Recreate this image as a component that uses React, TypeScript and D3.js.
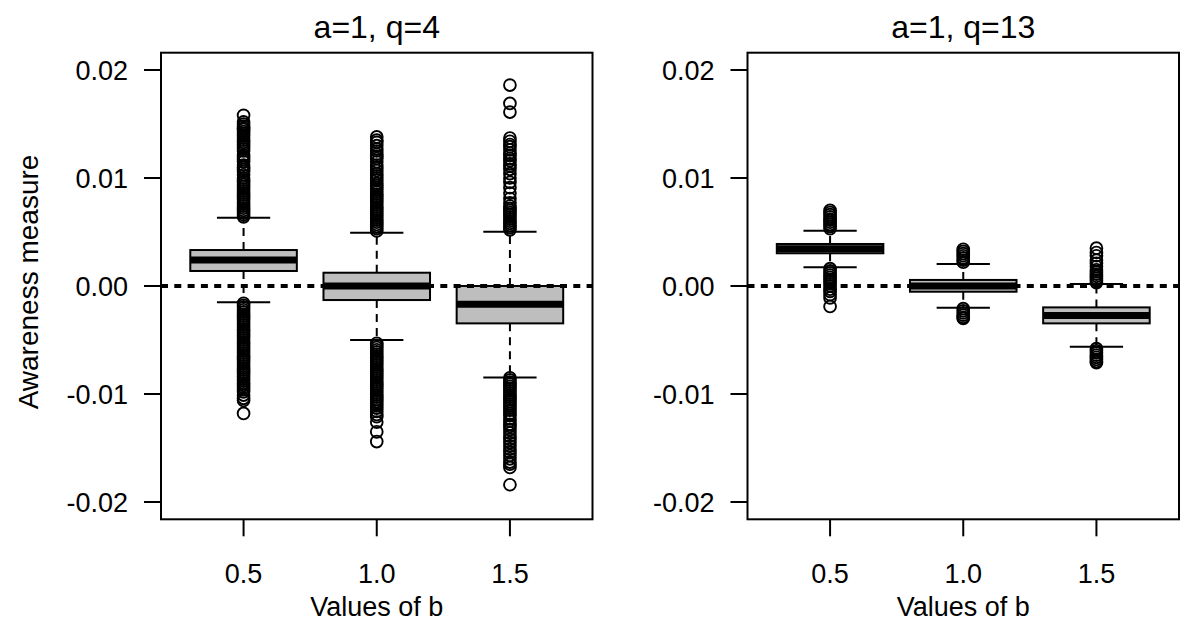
import React from "react";
import * as d3 from "d3";

// ---------- data ----------
const categories = ["0.5", "1.0", "1.5"];
const panelTitles = ["a=1, q=4", "a=1, q=13"];
const yTicks = [-0.02, -0.01, 0, 0.01, 0.02];
const yTickLabels = ["-0.02", "-0.01", "0.00", "0.01", "0.02"];
const xTitle = "Values of b";
const yTitle = "Awareness measure";

// box stats: [lower whisker, Q1, median, Q3, upper whisker]
const q4Stats = [
  [-0.00151, 0.00139, 0.0024, 0.00333, 0.00632],
  [-0.005, -0.0013, 0.0, 0.00123, 0.00494],
  [-0.00846, -0.00346, -0.0017, 0.0, 0.00503],
];
const q13Stats = [
  [0.00173, 0.00303, 0.00346, 0.00389, 0.00512],
  [-0.00201, -0.00053, 0.0, 0.00056, 0.00204],
  [-0.00562, -0.00346, -0.00272, -0.00198, 0.00019],
];

// outliers (q=4)
const q4Out05 = [
  0.0064, 0.0066, 0.0068, 0.007, 0.0072, 0.0074, 0.0076, 0.0078, 0.008, 0.0082, 0.0084, 0.0086, 0.0088,
  0.009, 0.0092, 0.0094, 0.0096, 0.0098, 0.01, 0.0103, 0.0106, 0.0108, 0.011, 0.0112, 0.0115, 0.0117,
  0.0119, 0.0121, 0.0125, 0.0127, 0.0129, 0.0131, 0.0133, 0.0135, 0.0137, 0.0139, 0.0141, 0.0143,
  0.0145, 0.0146, 0.0148, 0.015, 0.0152, 0.0158,
  -0.0016, -0.0018, -0.002, -0.0022, -0.0024, -0.0026, -0.0028, -0.003, -0.0032, -0.0034, -0.0036,
  -0.0038, -0.004, -0.0042, -0.0044, -0.0046, -0.0048, -0.005, -0.0052, -0.0054, -0.0056, -0.0058,
  -0.006, -0.0062, -0.0064, -0.0066, -0.0068, -0.007, -0.0072, -0.0074, -0.0076, -0.0078, -0.008,
  -0.0082, -0.0084, -0.0086, -0.0088, -0.009, -0.0092, -0.0094, -0.0096, -0.0098, -0.0101, -0.0104,
  -0.0106, -0.0118,
];
const q4Out10 = [
  0.0051, 0.0053, 0.0055, 0.0057, 0.0059, 0.0061, 0.0063, 0.0065, 0.0067, 0.0069, 0.0071, 0.0073,
  0.0075, 0.0077, 0.0079, 0.0081, 0.0083, 0.0085, 0.0087, 0.0089, 0.0091, 0.0093, 0.0095, 0.0098,
  0.01, 0.0102, 0.0104, 0.0107, 0.011, 0.0112, 0.0115, 0.0118, 0.012, 0.0122, 0.0125, 0.0127, 0.013,
  0.0133, 0.0135, 0.0138,
  -0.0053, -0.0055, -0.0057, -0.0059, -0.0061, -0.0063, -0.0065, -0.0067, -0.0069, -0.0071, -0.0073,
  -0.0075, -0.0077, -0.0079, -0.0081, -0.0083, -0.0085, -0.0087, -0.0089, -0.0091, -0.0093, -0.0095,
  -0.0097, -0.0099, -0.0101, -0.0103, -0.0105, -0.0107, -0.0109, -0.0111, -0.0113, -0.0116, -0.0119,
  -0.0121, -0.0126, -0.0135, -0.0144,
];
const q4Out15 = [
  0.0052, 0.0054, 0.0056, 0.0058, 0.006, 0.0062, 0.0064, 0.0066, 0.0068, 0.007, 0.0072, 0.0074, 0.0077,
  0.0081, 0.0086, 0.0091, 0.0096, 0.01, 0.0104, 0.0108, 0.0111, 0.0113, 0.0116, 0.0118, 0.0121, 0.0123,
  0.0126, 0.0129, 0.0131, 0.0134, 0.0137, 0.0161, 0.0169, 0.0186,
  -0.0085, -0.0087, -0.0089, -0.0091, -0.0093, -0.0095, -0.0097, -0.0099, -0.0101, -0.0103, -0.0105,
  -0.0107, -0.0109, -0.0111, -0.0113, -0.0115, -0.0118, -0.012, -0.0123, -0.0125, -0.0128, -0.013,
  -0.0133, -0.0136, -0.0139, -0.0142, -0.0145, -0.0148, -0.0151, -0.0154, -0.0157, -0.016, -0.0163,
  -0.0165, -0.0168, -0.0184,
];
// outliers (q=13)
const q13Out05 = [
  0.0053, 0.0055, 0.0057, 0.0059, 0.0061, 0.0062, 0.0064, 0.0066, 0.0068, 0.007,
  0.0016, 0.0014, 0.0012, 0.001, 0.0008, 0.0006, 0.0004, 0.0002, 0.0, -0.0003, -0.0005, -0.0008, -0.0011,
  -0.0019,
];
const q13Out10 = [
  0.0022, 0.0024, 0.0026, 0.0028, 0.003, 0.0032, 0.0034,
  -0.0021, -0.0023, -0.0025, -0.0027, -0.0029, -0.003,
];
const q13Out15 = [
  0.0003, 0.0005, 0.0007, 0.0009, 0.0011, 0.0013, 0.0015, 0.0018, 0.0021, 0.0024, 0.0028, 0.0031, 0.0035,
  -0.0058, -0.006, -0.0062, -0.0064, -0.0066, -0.0068, -0.007, -0.0071,
];

const panels = [
  { title: panelTitles[0], stats: q4Stats, outliers: [q4Out05, q4Out10, q4Out15] },
  { title: panelTitles[1], stats: q13Stats, outliers: [q13Out05, q13Out10, q13Out15] },
];

// ---------- layout ----------
const W = 1200;
const H = 627;
const plotLefts = [161, 747.5];
const plotWidth = 431.5;
const plotTop = 52.7;
const plotBottom = 519.3;
const FONT = "'Liberation Sans', Arial, Helvetica, sans-serif";
const FS = 27;
const FS_TITLE = 32;

function Panel({ p, left }: { p: typeof panels[0]; left: number }) {
  const x = d3.scaleLinear().domain([0.38, 3.62]).range([left, left + plotWidth]);
  const y = d3.scaleLinear().domain([-0.0216, 0.0216]).range([plotBottom, plotTop]);
  const boxW = x(1.4) - x(1.0); // half of 0.8 box
  const stapleHalf = boxW / 2;
  const cx = (left + left + plotWidth) / 2;
  return (
    <g>
      <text x={cx} y={38} textAnchor="middle" fontFamily={FONT} fontSize={FS_TITLE}>
        {p.title}
      </text>
      {/* y axis */}
      {yTicks.map((t, i) => (
        <g key={"yt" + i}>
          <line x1={left - 17} x2={left} y1={y(t)} y2={y(t)} stroke="#000" strokeWidth={2} />
          <text
            x={left - 33}
            y={y(t) + FS * 0.36}
            textAnchor="end"
            fontFamily={FONT}
            fontSize={FS}
          >
            {yTickLabels[i]}
          </text>
        </g>
      ))}
      {/* x axis */}
      {categories.map((c, i) => (
        <g key={"xt" + i}>
          <line x1={x(i + 1)} x2={x(i + 1)} y1={plotBottom} y2={plotBottom + 17} stroke="#000" strokeWidth={2} />
          <text x={x(i + 1)} y={583} textAnchor="middle" fontFamily={FONT} fontSize={FS}>
            {c}
          </text>
        </g>
      ))}
      <text x={cx} y={616} textAnchor="middle" fontFamily={FONT} fontSize={FS}>
        {xTitle}
      </text>
      {/* boxes */}
      {p.stats.map((s, i) => {
        const xc = x(i + 1);
        const [lo, q1, med, q3, hi] = s;
        return (
          <g key={"b" + i}>
            <line x1={xc} x2={xc} y1={y(q3)} y2={y(hi)} stroke="#000" strokeWidth={2} strokeDasharray="8,6" />
            <line x1={xc} x2={xc} y1={y(q1)} y2={y(lo)} stroke="#000" strokeWidth={2} strokeDasharray="8,6" />
            <rect
              x={xc - boxW}
              y={y(q3)}
              width={boxW * 2}
              height={y(q1) - y(q3)}
              fill="#bebebe"
              stroke="#000"
              strokeWidth={2}
            />
            <line x1={xc - boxW} x2={xc + boxW} y1={y(med)} y2={y(med)} stroke="#000" strokeWidth={7} />
            <line x1={xc - stapleHalf} x2={xc + stapleHalf} y1={y(hi)} y2={y(hi)} stroke="#000" strokeWidth={2} />
            <line x1={xc - stapleHalf} x2={xc + stapleHalf} y1={y(lo)} y2={y(lo)} stroke="#000" strokeWidth={2} />
            {p.outliers[i].map((v, j) => (
              <circle key={j} cx={xc} cy={y(v)} r={5.9} fill="none" stroke="#000" strokeWidth={1.9} />
            ))}
          </g>
        );
      })}
      {/* zero reference line */}
      <line
        x1={left}
        x2={left + plotWidth}
        y1={y(0)}
        y2={y(0)}
        stroke="#000"
        strokeWidth={4}
        strokeDasharray="7,6.3"
      />
      {/* frame */}
      <rect x={left} y={plotTop} width={plotWidth} height={plotBottom - plotTop} fill="none" stroke="#000" strokeWidth={2} />
    </g>
  );
}

export default function App() {
  return (
    <div style={{ position: "absolute", left: 0, top: 0 }}>
      <svg width={W} height={H} style={{ display: "block", background: "#fff" }}>
        <rect width={W} height={H} fill="#fff" />
        <text
          transform={`translate(38, 282) rotate(-90)`}
          textAnchor="middle"
          fontFamily={FONT}
          fontSize={28}
        >
          {yTitle}
        </text>
        {panels.map((p, i) => (
          <Panel key={i} p={p} left={plotLefts[i]} />
        ))}
      </svg>
    </div>
  );
}
